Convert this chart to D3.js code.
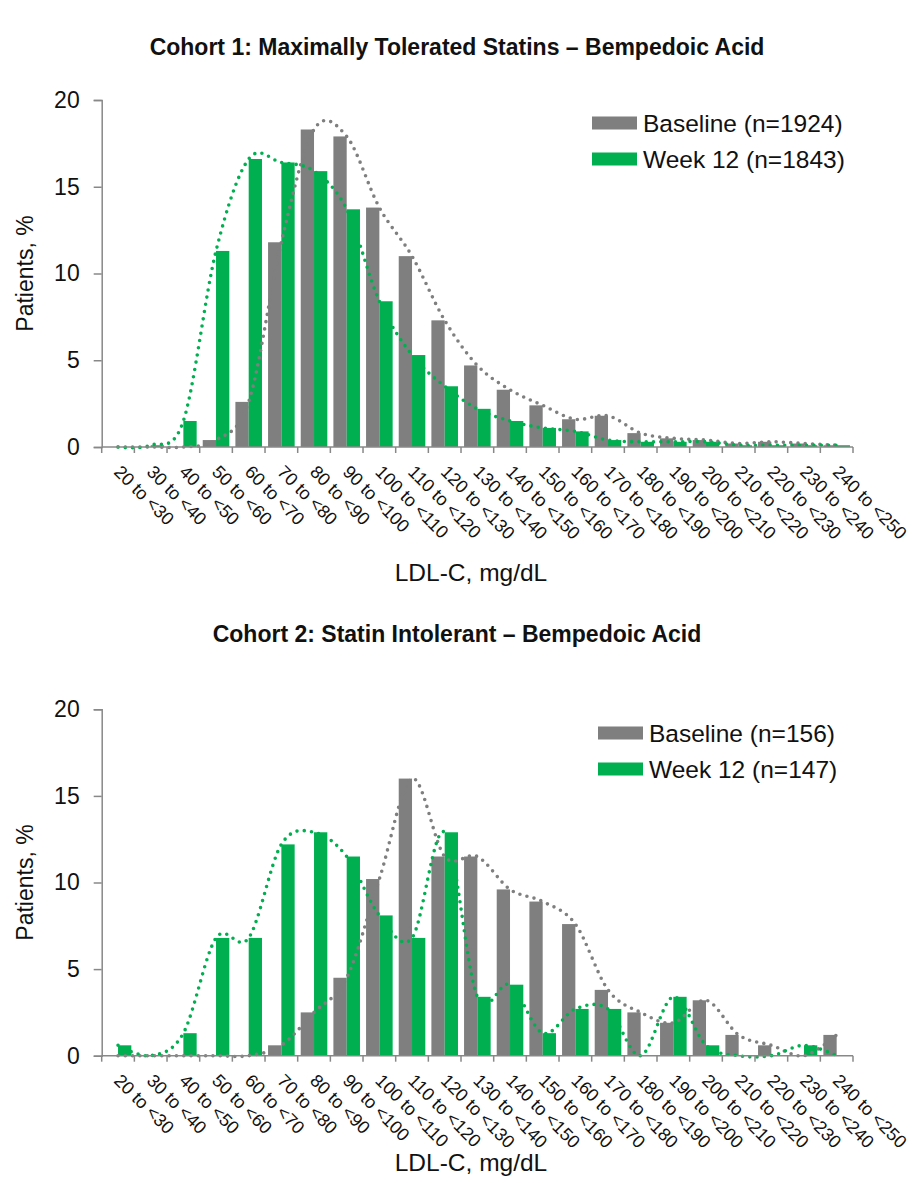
<!DOCTYPE html>
<html>
<head>
<meta charset="utf-8">
<script src="https://cdn.jsdelivr.net/npm/d3@7"></script>
<style>
  body { margin: 0; background: #fff; }
  text { font-family: Arial, "Liberation Sans", sans-serif; fill: #111; }
</style>
</head>
<body>
<svg id="chart" width="912" height="1183"></svg>
<script>
// LDL-C bins
const categories = ["20 to <30", "30 to <40", "40 to <50", "50 to <60", "60 to <70", "70 to <80",
  "80 to <90", "90 to <100", "100 to <110", "110 to <120", "120 to <130", "130 to <140",
  "140 to <150", "150 to <160", "160 to <170", "170 to <180", "180 to <190", "190 to <200",
  "200 to <210", "210 to <220", "220 to <230", "230 to <240", "240 to <250"];

// Cohort 1 (% patients)
const c1Baseline = [0, 0, 0, 0.4, 2.6, 11.8, 18.3, 17.9, 13.8, 11.0, 7.3, 4.7, 3.3, 2.4, 1.6, 1.8, 0.8, 0.5, 0.4, 0.2, 0.3, 0.2, 0.1];
const c1Week12   = [0, 0.1, 1.5, 11.3, 16.6, 16.4, 15.9, 13.7, 8.4, 5.3, 3.5, 2.2, 1.5, 1.1, 0.9, 0.4, 0.3, 0.3, 0.3, 0.1, 0.1, 0.1, 0.1];

// Cohort 2 (% patients)
const c2Baseline = [0, 0, 0, 0, 0, 0.6, 2.5, 4.5, 10.2, 16.0, 11.5, 11.5, 9.6, 8.9, 7.6, 3.8, 2.5, 1.9, 3.2, 1.2, 0.6, 0, 1.2];
const c2Week12   = [0.6, 0, 1.3, 6.8, 6.8, 12.2, 12.9, 11.5, 8.1, 6.8, 12.9, 3.4, 4.1, 1.3, 2.7, 2.7, 0, 3.4, 0.6, 0, 0, 0.6, 0];

const yTicks = [0, 5, 10, 15, 20];

const gray = "#7f7f7f";
const green = "#00b050";
const axisColor = "#888";

const svg = d3.select("#chart");

function drawChart(cfg) {
  const g = svg.append("g");

  const x = d3.scaleBand()
    .domain(categories)
    .range([101.7, 853])
    .paddingInner(0.186)
    .paddingOuter(0.093);

  const sub = d3.scaleBand()
    .domain(["base", "wk"])
    .range([0, x.bandwidth()]);

  const y = d3.scaleLinear()
    .domain([0, 20])
    .range([cfg.bottom, cfg.top]);

  // title
  g.append("text")
    .attr("x", 457)
    .attr("y", cfg.titleY)
    .attr("text-anchor", "middle")
    .style("font-weight", "bold")
    .style("font-size", "23px")
    .text(cfg.title);

  // bars
  const series = [
    { key: "base", values: cfg.baseline, color: gray },
    { key: "wk", values: cfg.week12, color: green }
  ];

  series.forEach(s => {
    g.append("g")
      .selectAll("rect")
      .data(categories)
      .join("rect")
        .attr("x", (d) => x(d) + sub(s.key))
        .attr("width", sub.bandwidth())
        .attr("y", (d, i) => y(s.values[i]))
        .attr("height", (d, i) => y(0) - y(s.values[i]))
        .attr("fill", s.color);
  });

  // smoothed dotted trend lines
  const line = d3.line()
    .x((d, i) => x(categories[i]) + x.bandwidth() / 2)
    .y(d => y(d))
    .curve(d3.curveCardinal.tension(0));

  series.forEach(s => {
    g.append("path")
      .datum(s.values)
      .attr("d", line)
      .attr("fill", "none")
      .attr("stroke", s.color)
      .attr("stroke-width", 3.6)
      .attr("stroke-linecap", "round")
      .attr("stroke-dasharray", "0 7.3");
  });

  // y axis
  const yAxis = g.append("g")
    .attr("transform", "translate(101.7,0)")
    .call(d3.axisLeft(y).tickValues(yTicks).tickSize(8).tickPadding(14));
  yAxis.select(".domain").attr("stroke", axisColor).attr("stroke-width", 1.5);
  yAxis.selectAll(".tick line").attr("stroke", axisColor).attr("stroke-width", 1.5);
  yAxis.selectAll(".tick text")
    .style("font-size", "23px")
    .attr("fill", "#111")
    .attr("font-family", null);

  // x axis with ticks at the category boundaries
  const bounds = d3.range(categories.length + 1).map(i => 101.7 + i * x.step());
  g.append("line")
    .attr("x1", 101.7).attr("x2", 853)
    .attr("y1", y(0)).attr("y2", y(0))
    .attr("stroke", axisColor).attr("stroke-width", 1.5);
  g.append("g")
    .selectAll("line")
    .data(bounds)
    .join("line")
      .attr("x1", d => d).attr("x2", d => d)
      .attr("y1", y(0)).attr("y2", y(0) + 6)
      .attr("stroke", axisColor).attr("stroke-width", 1.5);

  g.append("g")
    .selectAll("text")
    .data(categories)
    .join("text")
      .attr("transform", d => `translate(${x(d) + x.bandwidth() / 2 - 5},${y(0) + 26}) rotate(45)`)
      .style("font-size", "18px")
      .text(d => d);

  // axis titles
  g.append("text")
    .attr("x", 471)
    .attr("y", cfg.xTitleY)
    .attr("text-anchor", "middle")
    .style("font-size", "24.5px")
    .text("LDL-C, mg/dL");

  g.append("text")
    .attr("transform", `translate(33,${(cfg.top + cfg.bottom) / 2}) rotate(-90)`)
    .attr("text-anchor", "middle")
    .style("font-size", "23px")
    .text("Patients, %");

  // legend
  const leg = g.append("g");
  const items = [
    { label: cfg.baseLabel, color: gray },
    { label: cfg.wkLabel, color: green }
  ];
  items.forEach((it, i) => {
    const cy = cfg.legendY + i * 36;
    leg.append("rect")
      .attr("x", cfg.legendX).attr("y", cy - 6.5)
      .attr("width", 45).attr("height", 13)
      .attr("fill", it.color);
    leg.append("text")
      .attr("x", cfg.legendX + 51).attr("y", cy + 8.5)
      .style("font-size", "24.5px")
      .text(it.label);
  });
}

drawChart({
  title: "Cohort 1: Maximally Tolerated Statins \u2013 Bempedoic Acid",
  titleY: 55,
  top: 100,
  bottom: 447,
  baseline: c1Baseline,
  week12: c1Week12,
  xTitleY: 581,
  legendX: 592,
  legendY: 123,
  baseLabel: "Baseline (n=1924)",
  wkLabel: "Week 12 (n=1843)"
});

drawChart({
  title: "Cohort 2: Statin Intolerant \u2013 Bempedoic Acid",
  titleY: 642,
  top: 709.3,
  bottom: 1055.7,
  baseline: c2Baseline,
  week12: c2Week12,
  xTitleY: 1171,
  legendX: 598,
  legendY: 733,
  baseLabel: "Baseline (n=156)",
  wkLabel: "Week 12 (n=147)"
});
</script>
</body>
</html>
